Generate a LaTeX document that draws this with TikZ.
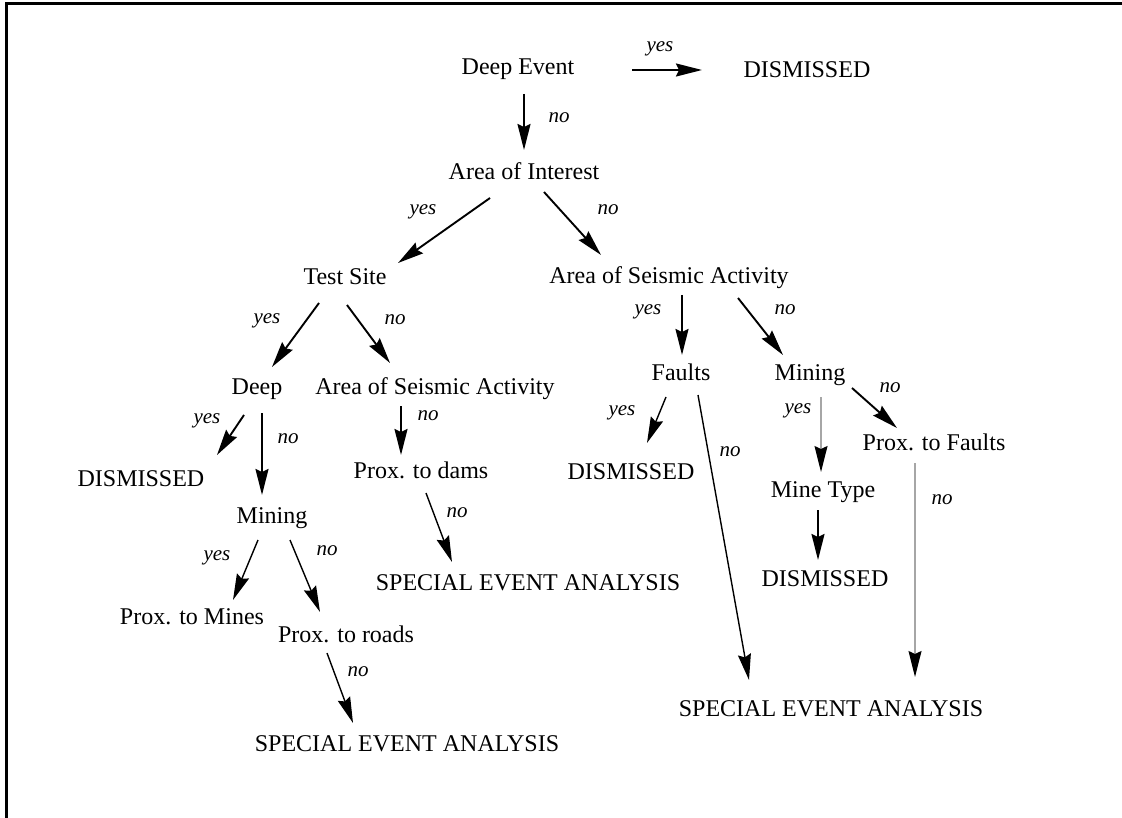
\documentclass[tikz,border=0pt]{standalone}
\usepackage{fontspec}
\setmainfont{Liberation Serif}
\usetikzlibrary{arrows.meta,calc}
\tikzset{
  txt/.style={inner sep=0pt, anchor=center, text height=16pt, text depth=0pt, font=\fontsize{24}{28}\selectfont},
  lbl/.style={inner sep=0pt, anchor=center, text height=10pt, text depth=0pt, font=\fontsize{21}{24}\selectfont\itshape},
  tip/.style={-{Stealth[length=26pt,width=13pt,inset=3pt,color=black,fill=black]}},
  arr/.style={line width=1.9pt, tip},
  thinarr/.style={line width=1.4pt, tip},
  grayarr/.style={line width=1.3pt, draw=black!35, tip},
}
\begin{document}
\begin{tikzpicture}[x=1pt,y=-1pt]
\useasboundingbox (0,0) rectangle (1122,818);
% frame
\draw[line width=3pt] (6,818) -- (6,4) -- (1122,4);
% nodes
\node[txt] (de) at (518,67) {Deep Event};
\node[txt] (d1) at (807,70) {DISMISSED};
\node[txt] (aoi) at (524,172) {Area of Interest};
\node[txt] (ts) at (345,277) {Test Site};
\node[txt] (as1) at (669,276) {Area of Seismic Activity};
\node[txt] (dp) at (257,386) {Deep};
\node[txt] (as2) at (435,386) {Area of Seismic Activity};
\node[txt] (d2) at (141,478) {DISMISSED};
\node[txt] (mn1) at (272,515) {Mining};
\node[txt] (pd) at (421,470) {Prox. to dams};
\node[txt] (pm) at (192,616) {Prox. to Mines};
\node[txt] (pr) at (346,634) {Prox. to roads};
\node[txt] (s1) at (407,743) {SPECIAL EVENT ANALYSIS};
\node[txt] (s2) at (528,582) {SPECIAL EVENT ANALYSIS};
\node[txt] (fa) at (681,373) {Faults};
\node[txt] (mn2) at (810,373) {Mining};
\node[txt] (d3) at (631,471) {DISMISSED};
\node[txt] (mt) at (823,489) {Mine Type};
\node[txt] (d4) at (825,578) {DISMISSED};
\node[txt] (pf) at (934,442) {Prox. to Faults};
\node[txt] (s3) at (831,708) {SPECIAL EVENT ANALYSIS};
% connectors
\draw[arr] ($(de)+(114,3)$) -- ($(d1)+(-105,0)$);
\draw[arr] ($(de)+(6,27)$) -- ($(aoi)+(0,-22)$);
\draw[arr] ($(aoi)+(-34,26)$) -- ($(ts)+(53,-14)$);
\draw[arr] ($(aoi)+(20,20)$) -- ($(as1)+(-68,-21)$);
\draw[arr] ($(ts)+(-26,26)$) -- ($(dp)+(15,-19)$);
\draw[arr] ($(ts)+(2,28)$) -- ($(as2)+(-45,-23)$);
\draw[arr] ($(dp)+(-13,29)$) -- ($(d2)+(76,-23)$);
\draw[arr] ($(dp)+(5,27)$) -- ($(mn1)+(-10,-20)$);
\draw[arr] ($(as2)+(-34,20)$) -- ($(pd)+(-20,-15)$);
\draw[thinarr] ($(pd)+(5,23)$) -- ($(s2)+(-76,-20)$);
\draw[thinarr] ($(mn1)+(-14,25)$) -- ($(pm)+(41,-16)$);
\draw[thinarr] ($(mn1)+(18,25)$) -- ($(pr)+(-26,-22)$);
\draw[thinarr] ($(pr)+(-19,19)$) -- ($(s1)+(-54,-20)$);
\draw[arr] ($(as1)+(13,19)$) -- ($(fa)+(1,-18)$);
\draw[arr] ($(as1)+(69,22)$) -- ($(mn2)+(-27,-18)$);
\draw[thinarr] ($(fa)+(-15,24)$) -- ($(d3)+(16,-28)$);
\draw[thinarr] ($(fa)+(17,22)$) -- ($(s3)+(-82,-28)$);
\draw[grayarr] ($(mn2)+(11,24)$) -- ($(mt)+(-2,-17)$);
\draw[arr] ($(mt)+(-5,21)$) -- ($(d4)+(-7,-18)$);
\draw[arr] ($(mn2)+(42,15)$) -- ($(pf)+(-37,-14)$);
\draw[grayarr] ($(pf)+(-19,21)$) -- ($(s3)+(84,-31)$);
% labels
\node[lbl] (l1) at (660,47) {yes};
\node[lbl] (l2) at (559,118) {no};
\node[lbl] (l3) at (423,210) {yes};
\node[lbl] (l4) at (608,210) {no};
\node[lbl] (l5) at (267,319) {yes};
\node[lbl] (l6) at (395,320) {no};
\node[lbl] (l7) at (207,418) {yes};
\node[lbl] (l8) at (288,438) {no};
\node[lbl] (l9) at (428,415) {no};
\node[lbl] (l10) at (457,512) {no};
\node[lbl] (l11) at (217,555) {yes};
\node[lbl] (l12) at (327,550) {no};
\node[lbl] (l13) at (358,671) {no};
\node[lbl] (l14) at (648,310) {yes};
\node[lbl] (l15) at (785,310) {no};
\node[lbl] (l16) at (622,410) {yes};
\node[lbl] (l17) at (730,451) {no};
\node[lbl] (l18) at (798,408) {yes};
\node[lbl] (l19) at (890,387) {no};
\node[lbl] (l20) at (942,499) {no};
\end{tikzpicture}
\end{document}
